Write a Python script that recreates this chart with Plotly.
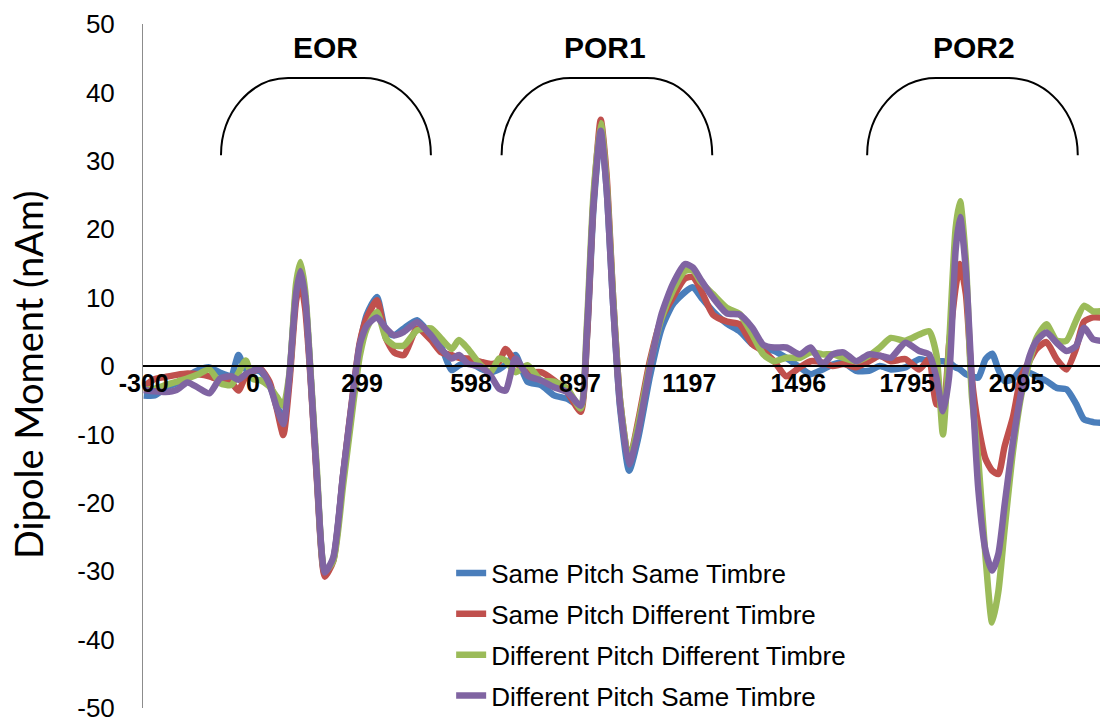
import plotly.graph_objects as go

# ---------------- data ----------------
time_ms = [-300, -270, -240, -210, -180, -150, -120, -90, -60, -40, -20, 0,
           20, 45, 65, 83, 100, 118, 130, 143, 158,
           175, 197, 220, 247, 275, 293, 312, 340,
           365, 387, 414, 450, 488, 516, 545, 565, 590,
           625, 652, 675, 693, 720, 753, 790, 826, 862, 899,
           916, 934, 954, 970, 988, 1007, 1032, 1057, 1089,
           1121, 1152, 1185, 1207, 1230, 1262, 1300, 1335, 1370,
           1400, 1430, 1463, 1500, 1530, 1563, 1590, 1620, 1655,
           1690, 1720, 1750, 1790, 1828, 1855, 1875, 1893, 1910,
           1928, 1940, 1956, 1972, 1990, 2010, 2028, 2045, 2062,
           2085, 2108, 2131, 2150, 2177, 2205, 2232, 2258, 2280,
           2305, 2325]

same_pitch_same_timbre = [
    -4.3, -4.3, -3.2, -2.5, -1.5, -0.6, -0.2, -1.0, -1.4, 1.6, -0.5, -0.6,
    -0.8, -2.8, -5.5, -8.2, -1.5, 11.0, 13.8, 10.0, -1.5,
    -16.0, -30.5, -28.3, -16.0, -4.0, 3.0, 7.5, 10.1,
    5.0, 4.5, 5.5, 6.7, 4.5, 2.8, -0.6, 0.1, 0.6,
    -0.4, -0.9, -0.5, 0.2, 1.6, -2.3, -2.8, -4.3, -4.8, -5.8,
    4.0, 23.0, 34.5, 26.0, 9.0, -6.0, -15.3, -10.5, -1.5,
    5.5, 9.0, 10.8, 11.5, 10.0, 8.0, 6.2, 5.1, 3.2,
    2.5, 2.2, 1.2, -0.2, -1.2, -0.5, 0.2, 0.5, -0.7,
    -0.7, 0.0, -0.5, -0.2, 1.0, 0.7, 0.7, 0.7, 0.5,
    -0.2, -0.5, -1.2, -1.5, -1.7, 1.0, 1.8, -0.5, -2.2,
    -1.9, -0.5, -1.0, -1.5, -2.2, -3.2, -3.4, -5.5, -7.8,
    -8.2, -8.3]

same_pitch_diff_timbre = [
    -3.0, -1.9, -1.6, -1.3, -1.1, -1.2, -1.5, -2.1, -2.4, -3.6, -1.5, -0.8,
    -0.4, -2.3, -6.2, -10.1, -2.3, 9.5, 12.3, 8.4, -2.0,
    -16.5, -30.8, -28.5, -16.0, -3.5, 3.5, 7.0, 9.6,
    4.0, 2.0, 1.6, 5.5, 3.8, 2.0, 1.6, 1.2, 1.1,
    0.6, 0.3, 0.6, 2.5, 0.6, -0.9, -0.9, -2.1, -3.8, -6.7,
    4.0, 24.0, 36.0, 28.0, 10.0, -5.0, -13.8, -8.0, 0.8,
    7.0, 10.0, 12.8, 13.0, 11.0, 7.5, 6.5, 6.1, 3.2,
    2.2, 0.7, -1.5, -0.2, 0.7, 0.5, 0.0, 0.3, -0.2,
    0.7, 1.5, 0.7, 1.0, -0.5, 1.0, -5.6, -5.6, 3.2,
    11.5, 14.9, 10.5, -1.7, -8.7, -13.6, -15.3, -15.8, -11.8,
    -7.5, -1.5, 0.8, 2.5, 3.5, 1.0, -0.5, 2.5, 6.5,
    7.1, 7.1]

diff_pitch_diff_timbre = [
    -3.5, -3.3, -2.8, -2.3, -1.8, -1.2, -0.5, -2.5, -2.8, -1.0, 0.8, -1.9,
    -2.1, -3.0, -4.5, -5.8, -1.0, 12.0, 15.2, 11.0, -1.0,
    -15.0, -30.0, -28.5, -17.5, -5.5, 1.5, 5.5, 7.9,
    4.0, 3.0, 3.0, 5.2, 5.5, 4.0, 2.5, 3.8, 2.5,
    0.1, -0.9, 1.1, 0.8, -0.9, 0.1, -2.1, -2.3, -3.3, -6.2,
    6.0, 25.0, 35.5, 27.0, 10.0, -5.0, -13.8, -8.5, 0.2,
    7.0, 11.0, 13.9, 14.0, 12.2, 10.5, 8.5, 7.6, 4.6,
    1.7, 0.7, 1.2, 1.2, 2.0, 1.7, 1.7, 1.2, 0.7,
    1.5, 2.7, 4.1, 3.7, 4.6, 5.1, 1.7, -10.0, 3.2,
    20.2, 24.1, 15.4, -4.1, -13.6, -28.0, -37.5, -33.0, -24.0,
    -12.6, -4.3, 0.8, 4.1, 6.1, 3.7, 3.7, 6.6, 8.8,
    8.0, 8.0]

diff_pitch_same_timbre = [
    -3.5, -3.7, -3.8, -3.5, -2.4, -3.2, -4.0, -1.8, -1.5, -2.0, -1.2, -0.7,
    -0.5, -2.7, -6.1, -8.5, -1.2, 10.5, 13.9, 10.0, -1.5,
    -15.9, -30.2, -28.0, -15.9, -3.7, 3.2, 5.9, 7.1,
    5.5, 4.5, 5.0, 6.4, 4.5, 2.5, 1.1, 1.6, 0.3,
    -0.1, -1.4, -3.3, -3.6, 1.1, -1.4, -2.1, -3.1, -3.8, -5.8,
    5.0, 23.7, 34.4, 26.0, 9.0, -5.6, -14.4, -9.5, -0.2,
    7.6, 12.0, 14.9, 14.4, 12.5, 10.0, 7.7, 7.5, 5.6,
    3.1, 2.7, 2.7, 1.7, 2.7, 0.2, 1.7, 2.0, 0.7,
    1.7, 1.5, 1.2, 3.4, 2.2, 1.7, -1.7, -6.6, -1.5,
    17.0, 21.8, 13.9, -1.7, -18.0, -27.0, -29.9, -27.5, -20.4,
    -11.1, -3.8, 1.5, 3.7, 4.9, 3.4, 2.2, 2.9, 5.6,
    3.9, 3.7]

series_names = ["Same Pitch Same Timbre", "Same Pitch Different Timbre",
                "Different Pitch Different Timbre", "Different Pitch Same Timbre"]
series_values = [same_pitch_same_timbre, same_pitch_diff_timbre,
                 diff_pitch_diff_timbre, diff_pitch_same_timbre]

x_tick_values = [-300, 0, 299, 598, 897, 1197, 1496, 1795, 2095]
x_tick_labels = ["-300", "0", "299", "598", "897", "1197", "1496", "1795", "2095"]
y_tick_values = [50, 40, 30, 20, 10, 0, -10, -20, -30, -40, -50]
y_tick_labels = ["50", "40", "30", "20", "10", "0", "-10", "-20", "-30", "-40", "-50"]

window_labels = ["EOR", "POR1", "POR2"]
y_title = "Dipole Moment (nAm)"

# ---------------- styling / layout constants ----------------
colors = ["#4A7EBB", "#C0504D", "#9BBB59", "#8064A2"]
FONT = "Liberation Sans, Arial, sans-serif"

# bracket geometry (left end, flat start, flat end, right end) in ms
brackets = [(-88, 96, 304, 488), (682, 871, 1082, 1260), (1685, 1874, 2074, 2263)]
label_x = [200, 967, 1978]
BR_BASE, BR_TOP = 30.8, 42.1

fig = go.Figure()
for name, vals, col in zip(series_names, series_values, colors):
    assert len(vals) == len(time_ms)
    fig.add_trace(go.Scatter(
        x=time_ms, y=vals, mode="lines", name=name, legendgroup=name,
        line=dict(color=col, width=6.5, shape="spline", smoothing=0.6),
    ))

k = 0.5523
for (x0, f0, f1, x1) in brackets:
    yb, yt = BR_BASE, BR_TOP
    ym = yb + k * (yt - yb)
    path = (f"M {x0},{yb} C {x0},{ym} {f0 - k*(f0-x0)},{yt} {f0},{yt} "
            f"L {f1},{yt} C {f1 + k*(x1-f1)},{yt} {x1},{ym} {x1},{yb}")
    fig.add_shape(type="path", path=path, xref="x", yref="y",
                  line=dict(color="black", width=2))

for lx, txt in zip(label_x, window_labels):
    fig.add_annotation(x=lx, y=46.6, xref="x", yref="y", text=f"<b>{txt}</b>",
                       showarrow=False, font=dict(family=FONT, size=30, color="black"))

# y-axis title as a rotated annotation placed left of the tick labels
fig.add_annotation(x=-0.12, y=0.487, xref="paper", yref="paper", text=y_title,
                   textangle=-90, showarrow=False, xanchor="center", yanchor="middle",
                   font=dict(family="Lato, Roboto, sans-serif", size=38, color="black"))

fig.update_layout(
    width=1101, height=722,
    margin=dict(l=143, r=1, t=24, b=14, autoexpand=False),
    paper_bgcolor="white", plot_bgcolor="white",
    font=dict(family=FONT, color="black"),
    showlegend=True,
    legend=dict(x=0.322, y=0.2315, xanchor="left", yanchor="top",
                bgcolor="rgba(0,0,0,0)", font=dict(family=FONT, size=26, color="black"),
                tracegroupgap=4, itemwidth=30),
    xaxis=dict(range=[-302, 2324], anchor="free", position=0.5,
               tickmode="array", tickvals=x_tick_values, ticktext=x_tick_labels,
               tickfont=dict(family=FONT, size=25, color="black", weight="bold"),
               ticklabeloverflow="allow", ticklabelstandoff=-5,
               showline=True, linecolor="black", linewidth=2, showgrid=False,
               zeroline=False, ticks="", automargin=False),
    yaxis=dict(range=[-50, 50], tickmode="array", tickvals=y_tick_values,
               ticktext=y_tick_labels, showgrid=False, zeroline=False,
               showline=True, linecolor="#8C8C8C", linewidth=1, ticks="",
               ticklabelstandoff=22, ticklabeloverflow="allow",
               tickfont=dict(family=FONT, size=26, color="black"),
               automargin=False),
)

fig.write_html("out.html")
